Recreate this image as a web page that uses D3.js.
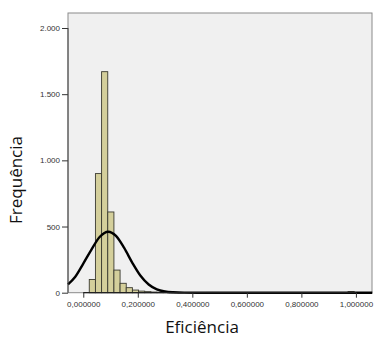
<!DOCTYPE html>
<html>
<head>
<meta charset="utf-8">
<script src="https://cdn.jsdelivr.net/npm/d3@7"></script>
<style>
  body { margin: 0; background: #fff; }
  svg { display: block; }
</style>
</head>
<body>
<svg id="chart" width="374" height="339"></svg>
<script>
// histogram of Eficiência, bins start at binStart, each binWidth wide
const binStart = 0.022;
const binWidth = 0.0226;
const counts = [100, 900, 1670, 610, 171, 71, 38, 20, 12, 8, 5, 3, 1, 1, 0, 0, 0, 0, 0, 2, 2,
                0, 0, 0, 0, 0, 0, 0, 0, 0, 0, 0, 0, 0, 0, 0, 0, 0, 0, 0, 0, 0, 8];

// normal curve (x, frequency)
const curveX = [-0.056, -0.03, 0, 0.03, 0.06, 0.0917, 0.12, 0.15, 0.18, 0.21, 0.24, 0.27, 0.30, 0.33, 0.37, 0.42, 1.06];
const curveY = [63, 119, 220, 326, 421, 461, 429, 338, 226, 128, 62, 25, 9, 3, 0.3, 0, 0];

const yTicks = [0, 500, 1000, 1500, 2000];
const xTicks = [0, 0.2, 0.4, 0.6, 0.8, 1.0];

const svg = d3.select('#chart');
const plotL = 68, plotR = 372, plotT = 13, plotB = 292.7;

const x = d3.scaleLinear().domain([-0.056, 1.059]).range([plotL, plotR]);
const y = d3.scaleLinear().domain([0, 2000]).range([plotB, 28]);

const loc = d3.formatLocale({decimal: ',', thousands: '.', grouping: [3], currency: ['', '']});
const fmtY = loc.format(',d');
const fmtX = loc.format('.6f');

// plot background
svg.append('rect')
    .attr('x', plotL).attr('y', plotT)
    .attr('width', plotR - plotL).attr('height', plotB - plotT)
    .attr('fill', '#f0f0f0')
    .attr('stroke', '#8a8a8a')
    .attr('stroke-width', 1);

// bars
svg.append('g').selectAll('rect')
    .data(counts.map((c, i) => ({x0: binStart + i * binWidth, x1: binStart + (i + 1) * binWidth, c: c})).filter(d => d.c > 0))
    .enter().append('rect')
    .attr('x', d => x(d.x0))
    .attr('width', d => x(d.x1) - x(d.x0))
    .attr('y', d => y(d.c))
    .attr('height', d => y(0) - y(d.c))
    .attr('fill', '#d4cf9b')
    .attr('stroke', '#3a3a30')
    .attr('stroke-width', 0.9);

// normal curve
const line = d3.line()
    .x(d => x(d[0]))
    .y(d => y(d[1]))
    .curve(d3.curveMonotoneX);

svg.append('path')
    .datum(curveX.map((v, i) => [v, curveY[i]]))
    .attr('d', line)
    .attr('fill', 'none')
    .attr('stroke', '#000')
    .attr('stroke-width', 2.4);

// y axis
const yAxis = svg.append('g')
    .attr('transform', 'translate(' + plotL + ',0)')
    .call(d3.axisLeft(y).tickValues(yTicks).tickFormat(fmtY).tickSize(6).tickPadding(2));
yAxis.select('.domain').remove();
yAxis.selectAll('line').attr('stroke', '#333');
yAxis.selectAll('text')
    .attr('font-family', 'Liberation Sans, Arial, sans-serif')
    .attr('font-size', 8)
    .attr('fill', '#333');
svg.append('line')
    .attr('x1', plotL).attr('x2', plotL)
    .attr('y1', y(0)).attr('y2', y(2000))
    .attr('stroke', '#444');

// x axis
const xAxis = svg.append('g')
    .attr('transform', 'translate(0,' + plotB + ')')
    .call(d3.axisBottom(x).tickValues(xTicks).tickFormat(fmtX).tickSize(5).tickPadding(4));
xAxis.select('.domain').remove();
xAxis.selectAll('line').attr('stroke', '#333');
xAxis.selectAll('text')
    .attr('font-family', 'Liberation Sans, Arial, sans-serif')
    .attr('font-size', 8)
    .attr('fill', '#333');
svg.append('line')
    .attr('x1', x(0)).attr('x2', x(1))
    .attr('y1', plotB).attr('y2', plotB)
    .attr('stroke', '#222')
    .attr('stroke-width', 1.2);

// titles
svg.append('text')
    .attr('x', 202).attr('y', 333)
    .attr('text-anchor', 'middle')
    .attr('font-family', 'Open Sans, sans-serif')
    .attr('font-size', 17)
    .attr('fill', '#111')
    .text('Eficiência');

svg.append('text')
    .attr('transform', 'translate(22,180) rotate(-90)')
    .attr('text-anchor', 'middle')
    .attr('font-family', 'Open Sans, sans-serif')
    .attr('font-size', 17)
    .attr('fill', '#111')
    .text('Frequência');
</script>
</body>
</html>
